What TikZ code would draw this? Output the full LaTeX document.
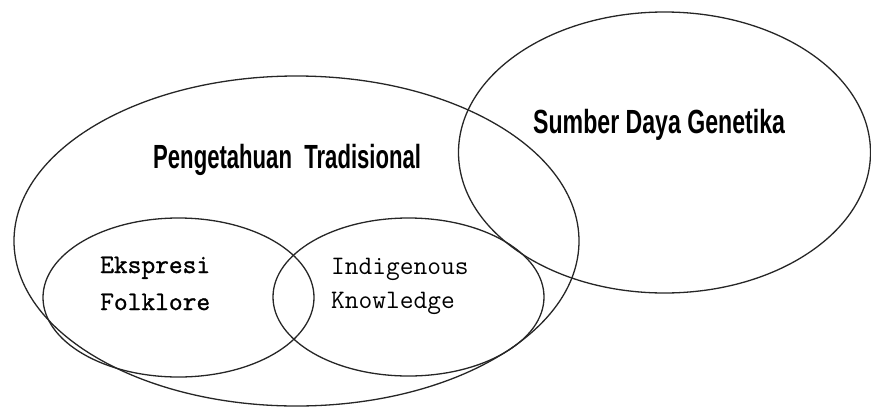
\documentclass[tikz,border=0pt]{standalone}
\usepackage{fontspec}
\newfontfamily\narrowsans[FakeStretch=0.66]{Liberation Sans}
\newfontfamily\widesans[FakeStretch=0.69]{Liberation Sans}
\newfontfamily\heavymono[FakeBold=1.2]{Latin Modern Mono}
\begin{document}
\begin{tikzpicture}[x=1pt,y=-1pt,
  ring/.style={draw=black!85, line width=1.3pt},
  title/.style={inner sep=0pt, anchor=base west},
  mono/.style={inner sep=0pt, anchor=base west, align=left}]
  \useasboundingbox (0,0) rectangle (871,410);
  % overlapping sets
  \draw[ring] (296.5,241) ellipse [x radius=282.5pt, y radius=165pt];
  \draw[ring] (664.5,152.5) ellipse [x radius=206pt, y radius=140.5pt];
  \draw[ring] (178.5,297.5) ellipse [x radius=135.5pt, y radius=79.5pt];
  \draw[ring] (408.5,297) ellipse [x radius=135.5pt, y radius=79pt];
  % labels (base west sits on the last line of a two-line label)
  \node[title, font=\narrowsans\bfseries\fontsize{33.5}{40}\selectfont] (pt) at (153,168) {Pengetahuan\ \ Tradisional};
  \node[title, font=\widesans\bfseries\fontsize{33.5}{40}\selectfont] (sdg) at (533,133) {Sumber Daya Genetika};
  \node[mono, font=\heavymono\bfseries\fontsize{26.7}{37}\selectfont] (ef) at (100,310) {Ekspresi\\Folklore};
  \node[mono, font=\ttfamily\fontsize{26.7}{34}\selectfont] (ik) at (331,308) {Indigenous\\Knowledge};
\end{tikzpicture}
\end{document}
